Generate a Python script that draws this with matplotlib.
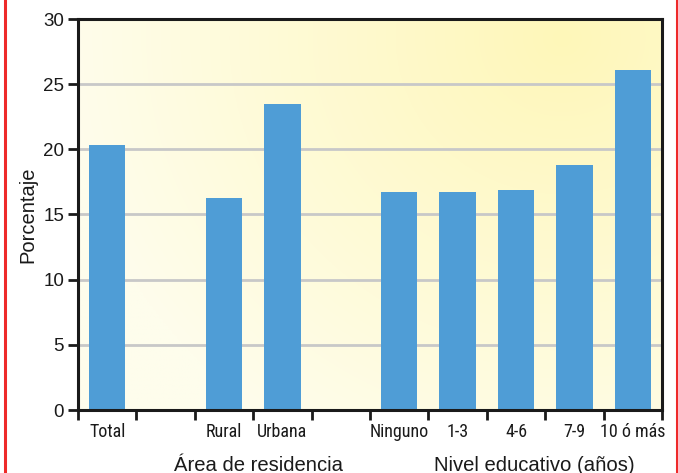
import numpy as np
import matplotlib
matplotlib.use("Agg")
import matplotlib.pyplot as plt
from matplotlib.lines import Line2D

categories = ["Total", "", "Rural", "Urbana", "", "Ninguno", "1-3", "4-6", "7-9", "10 ó más"]
values = [20.3, None, 16.3, 23.5, None, 16.7, 16.7, 16.9, 18.8, 26.1]
group_labels = ["Área de residencia", "Nivel educativo (años)"]
yticks = [0, 5, 10, 15, 20, 25, 30]

plt.rcParams["font.family"] = ["Liberation Sans", "DejaVu Sans"]
narrow = ["Roboto Condensed", "Liberation Sans", "DejaVu Sans"]
ink = "#1a1a1a"

fig = plt.figure(figsize=(6.78, 4.73), dpi=100)
ax = fig.add_axes([78 / 678, 1 - 410 / 473, 584 / 678, 391 / 473])

# radial yellow backdrop
nx, ny = 400, 300
xx, yy = np.meshgrid(np.linspace(0, 1, nx), np.linspace(0, 1, ny))
cx, cy = 0.83, 0.95
r = np.sqrt(((xx - cx) * 1.4) ** 2 + ((yy - cy) * 1.0) ** 2)
t = np.clip(r / 1.2, 0, 1)
c0 = np.array([255, 247, 185]) / 255
c1 = np.array([254, 253, 236]) / 255
img = c0[None, None, :] * (1 - t[..., None]) + c1[None, None, :] * t[..., None]
ax.imshow(img, extent=[0, 1, 0, 1], transform=ax.transAxes, origin="lower",
          aspect="auto", zorder=0)

n = len(categories)
x = np.arange(n)
for xi, v in zip(x, values):
    if v is not None:
        ax.bar(xi, v, width=0.62, color="#4f9dd6", zorder=3)

ax.set_xlim(-0.5, n - 0.5)
ax.set_ylim(0, 30)
ax.set_yticks(yticks)
ax.set_yticklabels([str(v) for v in yticks], fontsize=13.5)
for yv in yticks[1:-1]:
    ax.axhline(yv, color="#c8c8c8", lw=2, zorder=1)

ax.set_xticks(np.arange(n + 1) - 0.5)
ax.set_xticklabels([])
ax.set_xticks(x, minor=True)
ax.set_xticklabels(categories, minor=True, fontsize=13, family=narrow)
ax.tick_params(axis="x", which="minor", length=0, pad=9, labelcolor=ink)
ax.tick_params(axis="x", which="major", length=7, width=2, color=ink)
ax.tick_params(axis="y", length=7, width=2, color=ink, pad=3, labelcolor=ink)

for s in ax.spines.values():
    s.set_linewidth(2.2)
    s.set_color(ink)
    s.set_zorder(5)

ax.set_ylabel("Porcentaje", fontsize=14.5, color=ink, labelpad=4)

fig.text(259 / 678, 1 - 471 / 473, group_labels[0], ha="center", va="baseline",
         fontsize=14.6, color=ink)
fig.text(534 / 678, 1 - 471 / 473, group_labels[1], ha="center", va="baseline",
         fontsize=14.6, color=ink)

# red frame edges
for xf in (5 / 678, 676.5 / 678):
    fig.add_artist(Line2D([xf, xf], [0, 1], transform=fig.transFigure,
                          color="#ee2a2a", lw=2.2))

fig.savefig("out.png", dpi=100)
